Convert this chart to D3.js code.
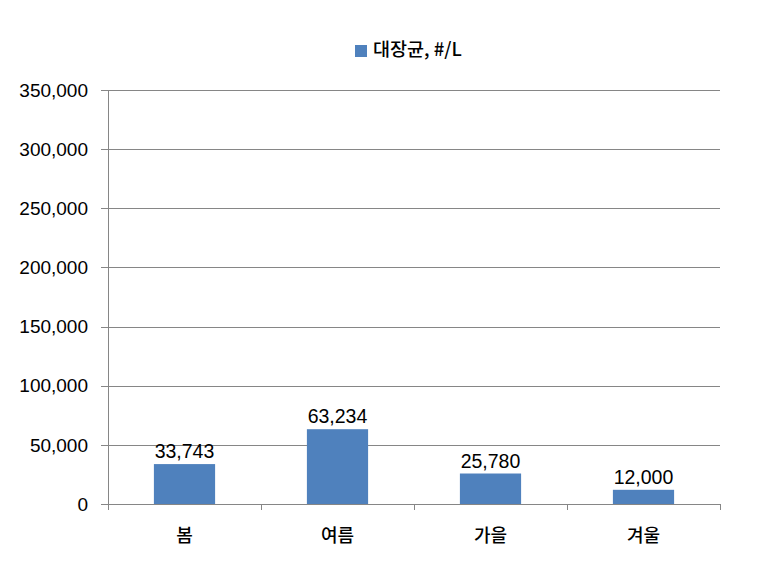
<!DOCTYPE html>
<html>
<head>
<meta charset="utf-8">
<script src="https://cdn.jsdelivr.net/npm/d3@7"></script>
<style>
  body { margin: 0; background: #fff; }
  svg text { font-family: "Liberation Sans", "Noto Sans CJK KR", sans-serif; }
  .kr { font-family: "Noto Sans CJK KR", sans-serif; font-weight: 500; }
</style>
</head>
<body>
<svg id="chart" width="768" height="562"></svg>
<script>
const seasons = ['봄', '여름', '가을', '겨울'];
const ecoli = [33743, 63234, 25780, 12000];
const seriesName = '대장균, #/L';
const yTicks = [0, 50000, 100000, 150000, 200000, 250000, 300000, 350000];

(function() {
  const svg = d3.select('#chart');
  const left = 108, right = 720, top = 90, bottom = 504;
  const fmt = d3.format(',');

  const x = d3.scaleBand().domain(seasons).range([left, right]).paddingInner(0.6).paddingOuter(0.3);
  const xb = d3.scaleBand().domain(seasons).range([left, right]);
  const y = d3.scaleLinear().domain([0, 350000]).range([bottom, top]);

  // gridlines
  svg.append('g')
    .selectAll('line')
    .data(yTicks)
    .enter()
    .append('line')
    .attr('x1', left - 7)
    .attr('x2', right)
    .attr('y1', d => Math.round(y(d)) + 0.5)
    .attr('y2', d => Math.round(y(d)) + 0.5)
    .attr('stroke', '#868686');

  // y axis labels
  svg.append('g')
    .selectAll('text')
    .data(yTicks)
    .enter()
    .append('text')
    .attr('x', left - 20)
    .attr('y', d => y(d))
    .attr('dy', '0.35em')
    .attr('text-anchor', 'end')
    .attr('font-size', 19)
    .attr('fill', '#000')
    .text(d => fmt(d));

  // y axis line
  svg.append('line')
    .attr('x1', left + 0.5).attr('x2', left + 0.5)
    .attr('y1', top).attr('y2', bottom)
    .attr('stroke', '#868686');

  // x ticks at category boundaries
  const bounds = seasons.map(s => xb(s)).concat([right]);
  svg.append('g')
    .selectAll('line')
    .data(bounds)
    .enter()
    .append('line')
    .attr('x1', d => Math.round(d) + 0.5)
    .attr('x2', d => Math.round(d) + 0.5)
    .attr('y1', bottom)
    .attr('y2', bottom + 6)
    .attr('stroke', '#868686');

  // bars
  svg.append('g')
    .selectAll('rect')
    .data(ecoli)
    .enter()
    .append('rect')
    .attr('x', (d, i) => x(seasons[i]))
    .attr('width', x.bandwidth())
    .attr('y', d => y(d))
    .attr('height', d => bottom - y(d))
    .attr('fill', '#4f81bd');

  // value labels
  svg.append('g')
    .selectAll('text')
    .data(ecoli)
    .enter()
    .append('text')
    .attr('x', (d, i) => x(seasons[i]) + x.bandwidth() / 2)
    .attr('y', d => y(d) - 6)
    .attr('text-anchor', 'middle')
    .attr('font-size', 19.5)
    .attr('fill', '#000')
    .text(d => fmt(d));

  // category labels
  svg.append('g')
    .selectAll('text')
    .data(seasons)
    .enter()
    .append('text')
    .attr('class', 'kr')
    .attr('x', d => xb(d) + xb.bandwidth() / 2)
    .attr('y', bottom + 38)
    .attr('text-anchor', 'middle')
    .attr('font-size', 18)
    .attr('fill', '#000')
    .text(d => d);

  // legend
  const lg = svg.append('g');
  lg.append('rect')
    .attr('x', 355).attr('y', 45)
    .attr('width', 12).attr('height', 12)
    .attr('fill', '#4f81bd');
  lg.append('text')
    .attr('class', 'kr')
    .attr('x', 373).attr('y', 50)
    .attr('dy', '0.35em')
    .attr('font-size', 18.5)
    .attr('fill', '#000')
    .text(seriesName);
})();
</script>
</body>
</html>
